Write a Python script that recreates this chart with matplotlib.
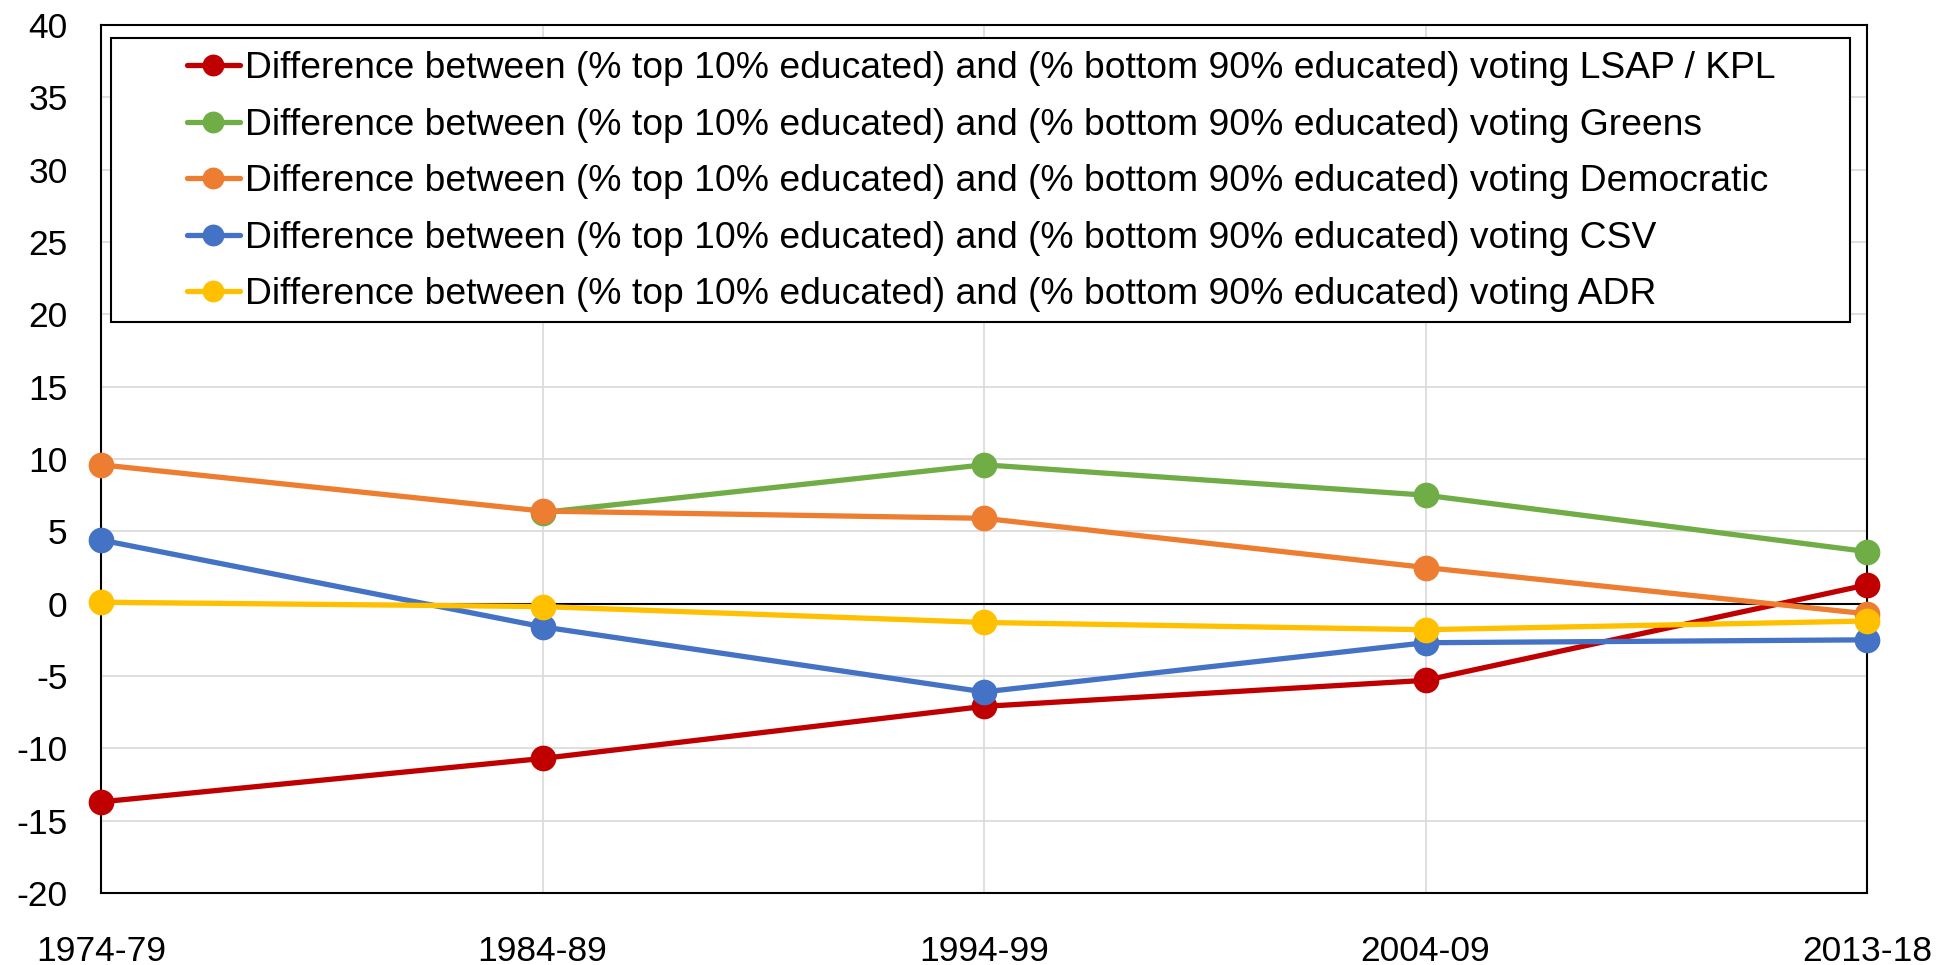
import matplotlib
matplotlib.use("Agg")
import matplotlib.pyplot as plt
from matplotlib.patches import Rectangle

plt.rcParams['font.family'] = ['Liberation Sans', 'DejaVu Sans']
plt.rcParams['axes.unicode_minus'] = False

periods = ["1974-79", "1984-89", "1994-99", "2004-09", "2013-18"]
lsap_kpl = [-13.7, -10.7, -7.1, -5.3, 1.3]
greens = [None, 6.3, 9.6, 7.5, 3.6]
democratic = [9.6, 6.4, 5.9, 2.5, -0.7]
csv = [4.4, -1.6, -6.1, -2.7, -2.5]
adr = [0.1, -0.2, -1.3, -1.8, -1.2]

series_names = [
    "Difference between (% top 10% educated) and (% bottom 90% educated) voting LSAP / KPL",
    "Difference between (% top 10% educated) and (% bottom 90% educated) voting Greens",
    "Difference between (% top 10% educated) and (% bottom 90% educated) voting Democratic",
    "Difference between (% top 10% educated) and (% bottom 90% educated) voting CSV",
    "Difference between (% top 10% educated) and (% bottom 90% educated) voting ADR",
]
colors = ["#C00000", "#70AD47", "#ED7D31", "#4472C4", "#FFC000"]
yticks = list(range(-20, 45, 5))

W, H = 1957, 965
fig = plt.figure(figsize=(W / 100, H / 100), dpi=100)
ax = fig.add_axes([101 / W, 1 - 893 / H, (1867 - 101) / W, (893 - 25) / H])

x = list(range(len(periods)))
handles = []
for vals, name, c in zip([lsap_kpl, greens, democratic, csv, adr], series_names, colors):
    xs = [xi for xi, v in zip(x, vals) if v is not None]
    ys = [v for v in vals if v is not None]
    h, = ax.plot(xs, ys, color=c, lw=3.8, marker='o', markersize=18.5,
                 markeredgewidth=0, label=name, clip_on=False, zorder=3,
                 solid_capstyle='round')
    handles.append(h)

ax.axhline(0, color='black', lw=1.5, zorder=2)
ax.set_xlim(0, len(periods) - 1)
ax.set_ylim(-20, 40)
ax.set_yticks(yticks)
ax.set_xticks(x)
ax.set_xticklabels(periods)
ax.grid(True, color='#D9D9D9', lw=1.2, zorder=0)
ax.set_axisbelow(True)
ax.tick_params(axis='both', length=0, labelsize=25.5)
ax.tick_params(axis='y', pad=24)
ax.tick_params(axis='x', pad=30)
for s in ax.spines.values():
    s.set_color('black')
    s.set_linewidth(1.5)

leg = fig.legend(handles=handles, loc='upper left',
                 bbox_to_anchor=(187 / W, 1 - 51 / H), bbox_transform=fig.transFigure,
                 frameon=False, fontsize=26.8, borderpad=0, borderaxespad=0,
                 labelspacing=0.58, handlelength=1.42, handletextpad=0.15,
                 markerscale=0.85)
leg.set_zorder(5)

fig.patches.append(Rectangle((110.5 / W, 1 - 321.5 / H), (1850 - 110.5) / W, (321.5 - 38) / H,
                             transform=fig.transFigure, facecolor='white',
                             edgecolor='black', lw=1.5, zorder=4))

fig.savefig("out.png", dpi=100)
